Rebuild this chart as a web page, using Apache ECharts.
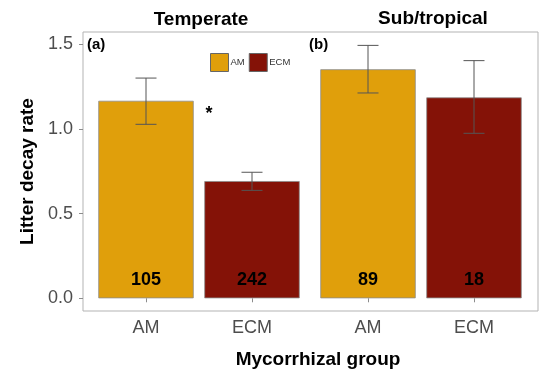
<!DOCTYPE html>
<html>
<head>
<meta charset="utf-8">
<script src="https://cdn.jsdelivr.net/npm/echarts@6/dist/echarts.min.js"></script>
<style>
  html, body { margin: 0; padding: 0; background: #fff; }
  #chart { width: 556px; height: 375px; }
</style>
</head>
<body>
<div id="chart"></div>
<script>
var groups = ["AM", "ECM"];
var temperateMean = [1.166, 0.692];
var temperateLow = [1.027, 0.637];
var temperateHigh = [1.300, 0.744];
var temperateN = [105, 242];
var tropicalMean = [1.352, 1.186];
var tropicalLow = [1.212, 0.974];
var tropicalHigh = [1.493, 1.403];
var tropicalN = [89, 18];
var yTicks = [0, 0.5, 1.0, 1.5];

var colors = { AM: "#E09F0B", ECM: "#841207" };
var font = "Liberation Sans, Arial, sans-serif";

var myChart = echarts.init(document.getElementById("chart"));

function barSeries(name, idx, means, counts, gi) {
  var data = means.map(function (v, i) {
    return i === idx ? { value: v, n: counts[i] } : "-";
  });
  return {
    name: name,
    type: "bar",
    xAxisIndex: gi,
    yAxisIndex: gi,
    barWidth: "90%",
    barGap: "-100%",
    data: data,
    itemStyle: { color: colors[name], borderColor: "#8c8c8c", borderWidth: 0.8 },
    label: {
      show: true,
      position: "insideBottom",
      distance: 9,
      fontFamily: font,
      fontWeight: "bold",
      fontSize: 18,
      color: "#000",
      formatter: function (p) { return p.data.n; }
    },
    animation: false
  };
}

function errSeries(low, high, gi) {
  return {
    type: "custom",
    xAxisIndex: gi,
    yAxisIndex: gi,
    data: low.map(function (l, i) { return [i, l, high[i]]; }),
    renderItem: function (params, api) {
      var lo = api.coord([api.value(0), api.value(1)]);
      var hi = api.coord([api.value(0), api.value(2)]);
      var hw = 10.5;
      var st = { stroke: "#555", lineWidth: 1 };
      return {
        type: "group",
        children: [
          { type: "line", shape: { x1: lo[0], y1: lo[1], x2: hi[0], y2: hi[1] }, style: st },
          { type: "line", shape: { x1: lo[0] - hw, y1: lo[1], x2: lo[0] + hw, y2: lo[1] }, style: st },
          { type: "line", shape: { x1: hi[0] - hw, y1: hi[1], x2: hi[0] + hw, y2: hi[1] }, style: st }
        ]
      };
    },
    z: 5,
    silent: true,
    animation: false
  };
}

function xCat(gi) {
  return {
    type: "category",
    gridIndex: gi,
    data: groups,
    axisLine: { show: false },
    axisTick: { show: true, alignWithLabel: true, length: 4, lineStyle: { color: "#8c8c8c" } },
    axisLabel: { fontFamily: font, fontSize: 18, color: "#4d4d4d", margin: 8 }
  };
}

var yMin = -0.075, yMax = 1.572;

var option = {
  animation: false,
  grid: [
    { left: 93, top: 32, width: 212, height: 279 },
    { left: 315, top: 32, width: 212, height: 279 },
    { left: 83, top: 32, width: 455, height: 279, show: true, borderColor: "#b3b3b3", borderWidth: 1, backgroundColor: "transparent" }
  ],
  legend: {
    data: ["AM", "ECM"],
    left: 210,
    top: 53,
    padding: 0,
    itemWidth: 18,
    itemHeight: 18,
    itemGap: 4,
    icon: "rect",
    itemStyle: { borderColor: "#666", borderWidth: 1 },
    textStyle: { fontFamily: font, fontSize: 9.5, color: "#333", padding: [0, 0, 0, -3] }
  },
  xAxis: [
    xCat(0),
    xCat(1),
    { type: "value", gridIndex: 2, show: false }
  ],
  yAxis: [
    {
      type: "value",
      gridIndex: 0,
      min: yMin,
      max: yMax,
      offset: 10,
      splitLine: { show: false },
      axisLine: { show: false },
      axisTick: { show: true, length: 4, customValues: yTicks, lineStyle: { color: "#8c8c8c" } },
      axisLabel: {
        customValues: yTicks,
        fontFamily: font,
        fontSize: 18,
        color: "#4d4d4d",
        margin: 10,
        formatter: function (v) { return v.toFixed(1); }
      },
      name: "Litter decay rate",
      nameLocation: "middle",
      nameGap: 46,
      nameTextStyle: { fontFamily: font, fontSize: 19, fontWeight: "bold", color: "#000" }
    },
    { type: "value", gridIndex: 1, min: yMin, max: yMax, show: false, splitLine: { show: false } },
    { type: "value", gridIndex: 2, show: false }
  ],
  graphic: [
    { type: "text", x: 201, y: 20, style: { text: "Temperate", font: "bold 19px " + font, fill: "#000", textAlign: "center", textVerticalAlign: "middle" } },
    { type: "text", x: 433, y: 19, style: { text: "Sub/tropical", font: "bold 19px " + font, fill: "#000", textAlign: "center", textVerticalAlign: "middle" } },
    { type: "text", x: 87, y: 45, style: { text: "(a)", font: "bold 15px " + font, fill: "#000", textVerticalAlign: "middle" } },
    { type: "text", x: 309, y: 45, style: { text: "(b)", font: "bold 15px " + font, fill: "#000", textVerticalAlign: "middle" } },
    { type: "text", x: 209, y: 114, style: { text: "*", font: "bold 18px " + font, fill: "#000", textAlign: "center", textVerticalAlign: "middle" } },
    { type: "text", x: 318, y: 360, style: { text: "Mycorrhizal group", font: "bold 19px " + font, fill: "#000", textAlign: "center", textVerticalAlign: "middle" } }
  ],
  series: [
    barSeries("AM", 0, temperateMean, temperateN, 0),
    barSeries("ECM", 1, temperateMean, temperateN, 0),
    errSeries(temperateLow, temperateHigh, 0),
    barSeries("AM", 0, tropicalMean, tropicalN, 1),
    barSeries("ECM", 1, tropicalMean, tropicalN, 1),
    errSeries(tropicalLow, tropicalHigh, 1)
  ]
};

myChart.setOption(option);
</script>
</body>
</html>
